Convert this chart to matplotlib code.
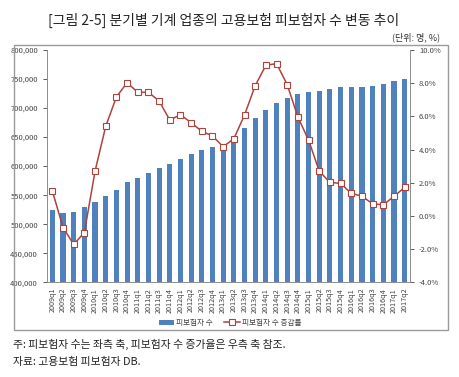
import numpy as np
import matplotlib
matplotlib.use("Agg")
from matplotlib import pyplot as plt
from matplotlib.patches import Rectangle
from matplotlib.ticker import FuncFormatter

plt.rcParams['font.family'] = ['Noto Sans CJK KR', 'DejaVu Sans']

# quarters 2009q1 ~ 2017q2
quarters = ["%dq%d" % (y, q) for y in range(2009, 2018) for q in range(1, 5)][:34]

# insured persons (left axis)
insured = [524000, 520000, 521000, 529000, 538000, 548000, 559000, 572000,
           579000, 588000, 597000, 604000, 613000, 621000, 627000, 633000,
           636000, 645000, 665000, 683000, 696000, 709000, 718000, 724000,
           727500, 729000, 732000, 737000, 737000, 737000, 738000, 742000,
           746000, 750000]

# growth rate in % (right axis)
growth = [1.51, -0.70, -1.72, -1.00, 2.70, 5.40, 7.17, 8.03, 7.45, 7.45,
          6.93, 5.78, 6.10, 5.62, 5.10, 4.82, 4.17, 4.65, 6.08, 7.85,
          9.08, 9.18, 7.91, 5.96, 4.57, 2.70, 2.02, 1.96, 1.36, 1.19,
          0.73, 0.67, 1.18, 1.72]

W, H = 459, 377
fig = plt.figure(figsize=(W / 100, H / 100), dpi=100)

# chart frame
fig.patches.append(Rectangle((14 / W, 1 - 330 / H), 434 / W, 285 / H,
                             transform=fig.transFigure, fill=False,
                             edgecolor='#9a9a9a', linewidth=1.0))

ax = fig.add_axes([47 / W, 1 - 282.3 / H, 363 / W, 232.3 / H])
x = np.arange(len(quarters))
bars = ax.bar(x, insured, width=0.48, color='#4F81BD', zorder=2,
              label='피보험자 수')
ax.set_ylim(400000, 800000)
ax.set_yticks(np.arange(400000, 800001, 50000))
ax.yaxis.set_major_formatter(FuncFormatter(lambda v, p: f"{int(v):,}"))
ax.set_xlim(-0.5, len(quarters) - 0.5)
ax.set_xticks(x)
ax.set_xticklabels(quarters, rotation=90, fontsize=5.2, color='#444444')
ax.tick_params(axis='y', labelsize=5.5, colors='#444444', length=3,
               width=0.6, direction='out')
ax.tick_params(axis='x', length=3, width=0.6, direction='in', pad=4)
for s in ['top', 'right']:
    ax.spines[s].set_visible(False)
for s in ['left', 'bottom']:
    ax.spines[s].set_color('#8c8c8c')
    ax.spines[s].set_linewidth(0.7)

ax2 = ax.twinx()
line, = ax2.plot(x, growth, color='#B0423C', linewidth=1.1, marker='s',
                 markersize=4.3, markerfacecolor='white',
                 markeredgecolor='#B0423C', markeredgewidth=0.8, zorder=3,
                 label='피보험자 수 증감률')
ax2.set_ylim(-4, 10)
ax2.set_yticks(np.arange(-4, 10.1, 2))
ax2.yaxis.set_major_formatter(FuncFormatter(lambda v, p: f"{v:.1f}%"))
ax2.tick_params(axis='y', labelsize=5.5, colors='#444444', length=3,
                width=0.6, direction='out')
for s in ['top', 'left', 'bottom']:
    ax2.spines[s].set_visible(False)
ax2.spines['right'].set_color('#8c8c8c')
ax2.spines['right'].set_linewidth(0.7)

fig.legend([bars, line], ['피보험자 수', '피보험자 수 증감률'],
           loc='center', bbox_to_anchor=(230 / W, 1 - 323 / H), ncol=2,
           frameon=False, fontsize=5.5, handlelength=2.0, handletextpad=0.3,
           columnspacing=1.5, labelcolor='#444444')

fig.text(224 / W, 1 - 20 / H, '[그림 2-5] 분기별 기계 업종의 고용보험 피보험자 수 변동 추이',
         ha='center', va='center', fontsize=10, color='#222222')
fig.text(440 / W, 1 - 37 / H, '(단위: 명, %)', ha='right', va='center',
         fontsize=6.5, color='#333333')
fig.text(13 / W, 1 - 344 / H, '주: 피보험자 수는 좌측 축, 피보험자 수 증가율은 우측 축 참조.',
         ha='left', va='center', fontsize=7.8, color='#222222')
fig.text(13 / W, 1 - 362 / H, '자료: 고용보험 피보험자 DB.',
         ha='left', va='center', fontsize=7.8, color='#222222')

fig.savefig('out.png', dpi=100)
